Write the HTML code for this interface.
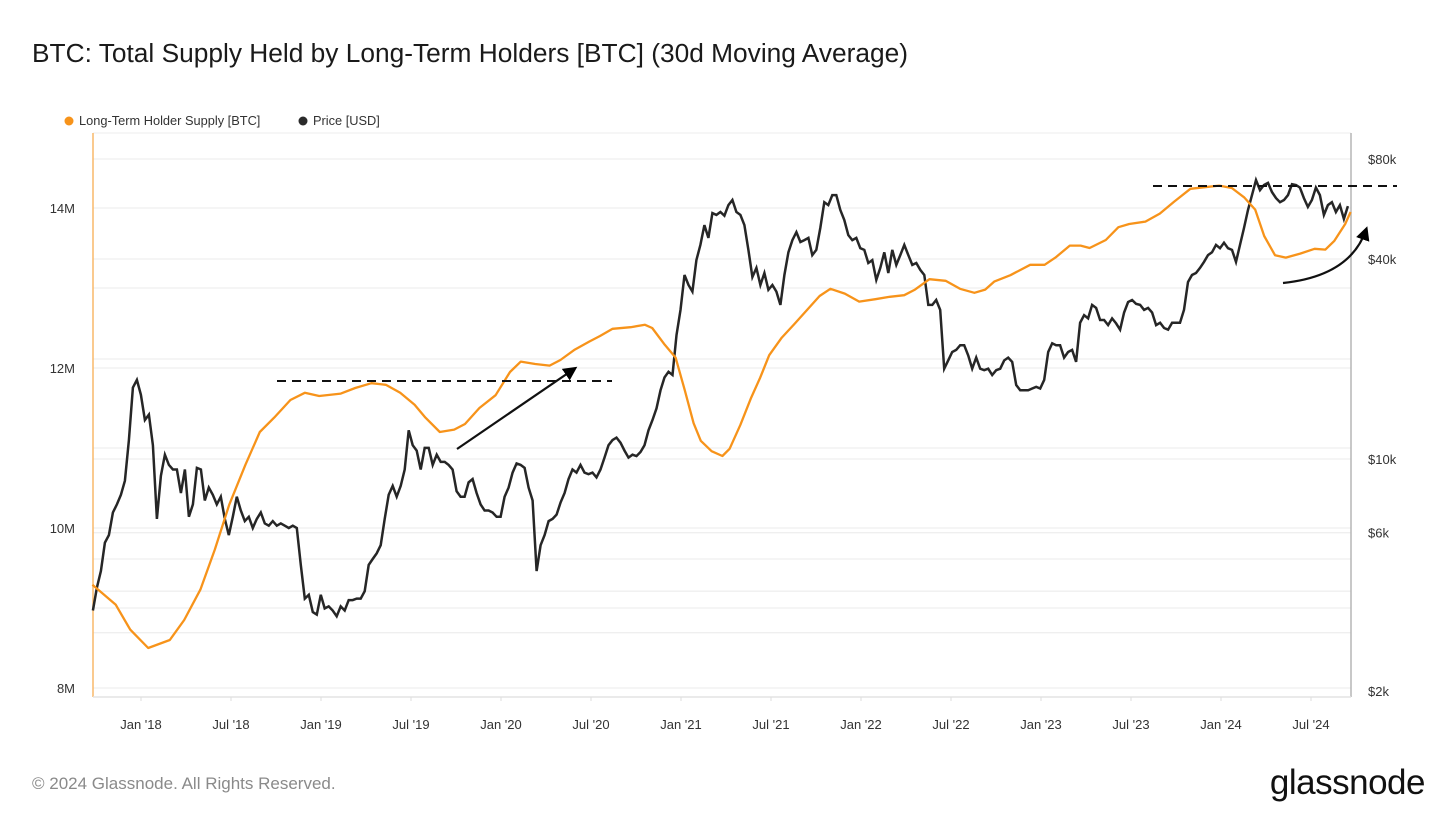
<!DOCTYPE html>
<html><head><meta charset="utf-8">
<style>
html,body{margin:0;padding:0;background:#fff;}
body{width:1456px;height:819px;overflow:hidden;font-family:"Liberation Sans",Arial,sans-serif;}
svg text{font-family:"Liberation Sans",Arial,sans-serif;}
</style></head>
<body>
<svg id="chart" width="1456" height="819" viewBox="0 0 1456 819">
  <text x="32" y="62" font-size="26.3" fill="#1a1a1a">BTC: Total Supply Held by Long-Term Holders [BTC] (30d Moving Average)</text>
  <g>
    <g>
      <circle cx="69" cy="121" r="4.5" fill="#f7931a"/>
      <text x="79" y="125" font-size="12.8" fill="#333">Long-Term Holder Supply [BTC]</text>
    </g>
    <g>
      <circle cx="303" cy="121" r="4.5" fill="#2b2b2b"/>
      <text x="313" y="125" font-size="12.8" fill="#333">Price [USD]</text>
    </g>
  </g>
  <g id="grid"></g>
  <g id="axes"></g>
  <g id="series"></g>
  <g id="annot"></g>
  <text x="32" y="789" font-size="17" fill="#8a8a8a">© 2024 Glassnode. All Rights Reserved.</text>
  <text x="1425" y="794" font-size="35" fill="#111" text-anchor="end" letter-spacing="-0.5">glassnode</text>
</svg>
<script>
// ---- data ----
const lthYears = [2017.73,2017.86,2017.94,2018.04,2018.16,2018.24,2018.33,2018.41,2018.49,2018.58,2018.66,2018.74,2018.83,2018.91,2018.99,2019.11,2019.19,2019.28,2019.36,2019.44,2019.52,2019.58,2019.66,2019.74,2019.80,2019.88,2019.97,2020.05,2020.11,2020.19,2020.27,2020.33,2020.41,2020.49,2020.55,2020.62,2020.72,2020.80,2020.84,2020.91,2020.97,2021.02,2021.07,2021.11,2021.17,2021.23,2021.27,2021.33,2021.39,2021.44,2021.49,2021.56,2021.63,2021.71,2021.77,2021.83,2021.91,2021.99,2022.08,2022.16,2022.24,2022.30,2022.38,2022.47,2022.55,2022.63,2022.69,2022.74,2022.83,2022.94,2023.02,2023.08,2023.16,2023.22,2023.27,2023.36,2023.43,2023.49,2023.58,2023.66,2023.74,2023.83,2023.91,2023.99,2024.06,2024.13,2024.19,2024.24,2024.30,2024.36,2024.44,2024.52,2024.58,2024.63,2024.69,2024.72];
const lthSupplyM = [9.29,9.04,8.73,8.50,8.60,8.85,9.23,9.73,10.29,10.79,11.20,11.38,11.60,11.69,11.65,11.68,11.75,11.81,11.79,11.69,11.54,11.38,11.20,11.23,11.30,11.50,11.66,11.95,12.08,12.05,12.03,12.10,12.23,12.33,12.40,12.49,12.51,12.54,12.50,12.29,12.13,11.73,11.31,11.09,10.96,10.90,10.99,11.29,11.63,11.88,12.16,12.38,12.55,12.75,12.90,12.99,12.93,12.83,12.86,12.89,12.91,12.98,13.11,13.09,12.99,12.94,12.98,13.08,13.16,13.29,13.29,13.38,13.53,13.53,13.50,13.60,13.76,13.80,13.83,13.93,14.08,14.24,14.26,14.28,14.25,14.13,13.98,13.65,13.41,13.38,13.43,13.49,13.48,13.59,13.80,13.95];
const priceStartYear = 2017.733;
const priceStepDays = 8.11;
const priceK = [3.5,4.1,4.6,5.6,5.9,6.9,7.3,7.8,8.6,11.4,16.4,17.3,15.6,13.1,13.6,11.0,6.6,8.9,10.3,9.6,9.3,9.3,7.9,9.3,6.7,7.3,9.4,9.3,7.5,8.2,7.8,7.3,7.7,6.6,5.9,6.7,7.7,7.0,6.5,6.7,6.2,6.6,6.9,6.4,6.3,6.5,6.3,6.4,6.3,6.2,6.3,6.2,4.8,3.8,3.9,3.46,3.4,3.9,3.55,3.6,3.5,3.36,3.6,3.5,3.76,3.76,3.8,3.8,4.0,4.8,5.0,5.2,5.5,6.6,7.8,8.3,7.7,8.3,9.3,12.2,11.0,10.6,9.3,10.8,10.8,9.6,10.3,9.8,9.8,9.6,9.3,8.0,7.7,7.7,8.5,8.7,7.9,7.3,7.0,7.0,6.9,6.7,6.7,7.7,8.2,9.1,9.7,9.6,9.4,8.2,7.5,4.6,5.5,5.9,6.5,6.6,6.8,7.4,7.9,8.7,9.3,9.1,9.6,9.1,9.0,9.1,8.8,9.3,10.1,11.0,11.4,11.6,11.2,10.6,10.1,10.3,10.2,10.5,11.0,12.2,13.1,14.2,16.1,17.6,18.3,17.9,23.6,28.1,35.8,33.4,31.9,39.7,44.1,50.6,46.3,55.0,54.3,55.4,54.0,58.1,60.2,55.4,54.3,50.6,42.6,35.3,37.6,33.4,36.3,32.3,33.4,31.9,29.1,35.8,41.9,45.6,48.2,45.0,45.6,46.3,41.1,42.6,49.6,59.3,58.1,62.3,62.3,56.2,52.4,47.2,45.6,46.3,43.1,42.6,38.9,39.7,34.6,37.6,41.9,36.3,42.6,38.4,41.1,44.1,41.1,38.4,38.9,37.1,35.8,29.1,29.1,30.1,28.1,18.7,19.8,21.0,21.3,22.0,22.0,20.5,18.7,20.2,18.7,18.5,18.7,17.9,18.5,18.7,19.8,20.2,19.6,16.7,16.1,16.1,16.1,16.3,16.5,16.3,17.3,21.0,22.3,22.0,22.0,20.2,21.0,21.3,19.6,25.7,27.1,26.5,29.1,28.5,26.2,26.2,25.3,26.5,25.6,24.5,27.6,29.7,30.1,29.3,29.1,28.1,28.5,27.6,25.3,25.7,24.8,24.5,25.7,25.7,25.7,28.1,34.1,35.8,36.3,37.6,39.2,41.1,41.9,44.1,43.1,44.8,43.1,42.6,39.2,44.1,49.6,56.2,62.3,69.1,64.5,66.8,67.8,63.6,61.0,59.3,60.2,62.3,67.2,66.8,65.6,61.0,57.4,60.2,65.6,62.3,54.3,58.1,59.3,55.4,58.1,52.8,57.7];
const leftTicks = [8,10,12,14];
const leftTickLabels = ["8M","10M","12M","14M"];
const rightTicks = [2,6,10,40,80];
const rightTickLabels = ["$2k","$6k","$10k","$40k","$80k"];
const xTickYears = [2018,2018.5,2019,2019.5,2020,2020.5,2021,2021.5,2022,2022.5,2023,2023.5,2024,2024.5];
const xTickLabels = ["Jan '18","Jul '18","Jan '19","Jul '19","Jan '20","Jul '20","Jan '21","Jul '21","Jan '22","Jul '22","Jan '23","Jul '23","Jan '24","Jul '24"];

// ---- scales ----
const PL=93, PR=1351, PT=133, PB=697;
const xS = t => 141 + (t-2018)*180;
const yL = v => 688 - (v-8)*80;
const yR = p => 259 - Math.log2(p/40)*100;
const NS='http://www.w3.org/2000/svg';
function mk(tag, attrs, parent){const e=document.createElementNS(NS,tag);for(const k in attrs)e.setAttribute(k,attrs[k]);parent.appendChild(e);return e;}

// grid
const grid=document.getElementById('grid');
const gridVals=[];
[8,9,10,11,12,13,14,15].forEach(v=>gridVals.push(yL(v)));
[3,4,5,6,10,20,40,80].forEach(p=>gridVals.push(yR(p)));
gridVals.forEach(y=>{ if(y>PT&&y<PB){
  const l=mk('line',{x1:PL,x2:PR,y1:y,y2:y,stroke:'#efefef','stroke-width':1.3},grid);
  
  
}});
mk('line',{x1:PL,x2:PR,y1:PT,y2:PT,stroke:'#eeeeee','stroke-width':1},grid);

// axes
const axes=document.getElementById('axes');
const la=mk('line',{x1:PL,x2:PL,y1:PT,y2:PB,stroke:'#f9b86a','stroke-width':1.5},axes);


const ra=mk('line',{x1:PR,x2:PR,y1:PT,y2:PB,stroke:'#b5b5b5','stroke-width':1.5},axes);


const ba=mk('line',{x1:PL,x2:PR,y1:PB,y2:PB,stroke:'#e3e3e3','stroke-width':1.5},axes);


leftTicks.forEach((v,i)=>{
  const t=mk('text',{x:75,y:yL(v)+5,'font-size':13,fill:'#333','text-anchor':'end'},axes);
  t.textContent=leftTickLabels[i];
  
  
});
rightTicks.forEach((p,i)=>{
  const t=mk('text',{x:1368,y:yR(p)+5,'font-size':13,fill:'#333'},axes);
  t.textContent=rightTickLabels[i];
  
  
});
xTickYears.forEach((ty,i)=>{
  const x=xS(ty);
  mk('line',{x1:x,x2:x,y1:PB,y2:PB+4,stroke:'#ddd'},axes);
  const t=mk('text',{x:x,y:729,'font-size':13,fill:'#333','text-anchor':'middle'},axes);
  t.textContent=xTickLabels[i];
  
  
});

// series
const ser=document.getElementById('series');
let d='';
priceK.forEach((p,i)=>{const t=priceStartYear+i*priceStepDays/365.25;d+=(i?'L':'M')+xS(t).toFixed(1)+','+yR(p).toFixed(1);});
const pl=mk('path',{d:d,fill:'none',stroke:'#262626','stroke-width':2.5,'stroke-linejoin':'miter'},ser);


d='';
lthYears.forEach((t,i)=>{d+=(i?'L':'M')+xS(t).toFixed(1)+','+yL(lthSupplyM[i]).toFixed(1);});
const ll=mk('path',{d:d,fill:'none',stroke:'#f7931a','stroke-width':2.3,'stroke-linejoin':'round'},ser);



// annotations
const an=document.getElementById('annot');
const defs=mk('defs',{},an);
const mrk2=mk('marker',{id:'ah2',markerWidth:14,markerHeight:14,refX:10,refY:7,orient:'auto',markerUnits:'userSpaceOnUse'},defs);
mk('path',{d:'M0,0 L14,7 L0,14 Z',fill:'#000'},mrk2);
const d1=mk('line',{x1:277,x2:612,y1:381,y2:381,stroke:'#111','stroke-width':2,'stroke-dasharray':'9 6'},an);


const a1=mk('line',{x1:457,y1:449,x2:574,y2:369,stroke:'#111','stroke-width':2.2,'marker-end':'url(#ah2)'},an);


const d2=mk('line',{x1:1153,x2:1397,y1:186,y2:186,stroke:'#111','stroke-width':2,'stroke-dasharray':'9 6'},an);


const a2=mk('path',{d:'M1283,283 Q1350,276 1366,230',fill:'none',stroke:'#111','stroke-width':2.2,'marker-end':'url(#ah2)'},an);


</script>
</body></html>
